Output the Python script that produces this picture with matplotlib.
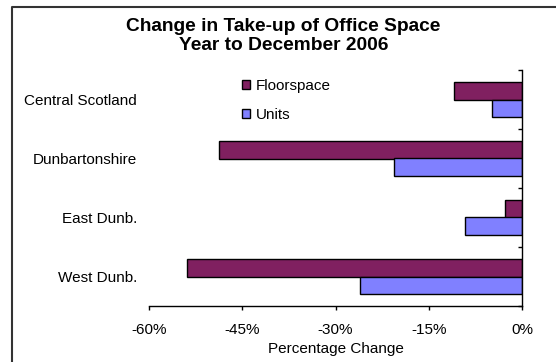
import numpy as np
import matplotlib
matplotlib.use("Agg")
import matplotlib.pyplot as plt
from matplotlib.lines import Line2D
from matplotlib.ticker import FixedLocator

plt.rcParams['font.family'] = ['Liberation Sans', 'DejaVu Sans']

# data (percent change)
regions = ["Central Scotland", "Dunbartonshire", "East Dunb.", "West Dunb."]
floorspace = [-11.0, -48.8, -2.8, -53.9]
units = [-4.9, -20.6, -9.2, -26.1]
xticks = [-60, -45, -30, -15, 0]
xticklabels = ["-60%", "-45%", "-30%", "-15%", "0%"]

fig = plt.figure(figsize=(5.56, 3.62), dpi=100)
ax = fig.add_axes([149/556, 1-306/362, (522-149)/556, (306-70)/362])

y = np.arange(len(regions))[::-1]
h = 0.29
ax.barh(y + h/2, floorspace, height=h, color="#802060", edgecolor="black", linewidth=1, label="Floorspace")
ax.barh(y - h/2, units, height=h, color="#8080FF", edgecolor="black", linewidth=1, label="Units")

ax.set_xlim(-60, 0)
ax.set_ylim(-0.5, len(regions) - 0.5)
ax.set_xticks(xticks)
ax.set_xticklabels(xticklabels, fontsize=11)
ax.set_yticks(y)
ax.set_yticklabels(regions, fontsize=11)
ax.yaxis.set_minor_locator(FixedLocator(np.arange(-0.5, len(regions), 1.0)))
ax.tick_params(axis='y', which='major', left=False, right=False, length=0, pad=8.6)
ax.tick_params(axis='y', which='minor', left=False, right=True, direction='in', length=3, width=1)
ax.tick_params(axis='x', direction='out', length=3, width=1, pad=9)
ax.spines['left'].set_visible(False)
ax.spines['top'].set_visible(False)
ax.spines['right'].set_linewidth(1)
ax.spines['bottom'].set_linewidth(1)
ax.set_xlabel("Percentage Change", fontsize=11, labelpad=3.5)

fig.text(0.51, 1-18/362, "Change in Take-up of Office Space\nYear to December 2006",
         ha='center', va='top', fontsize=13.8, fontweight='bold', linespacing=1.15)

ax.legend(loc='upper left', bbox_to_anchor=(242/556, 1-79/362), bbox_transform=fig.transFigure,
          frameon=False, fontsize=11, handlelength=0.55, handleheight=0.55, handletextpad=0.35,
          labelspacing=1.0, borderpad=0, borderaxespad=0)

# outer chart border (left and top)
fig.add_artist(Line2D([12/556, 12/556, 1], [0, 1-7/362, 1-7/362], transform=fig.transFigure,
                      color="#333333", linewidth=1.5))

fig.savefig("out.png", dpi=100)
